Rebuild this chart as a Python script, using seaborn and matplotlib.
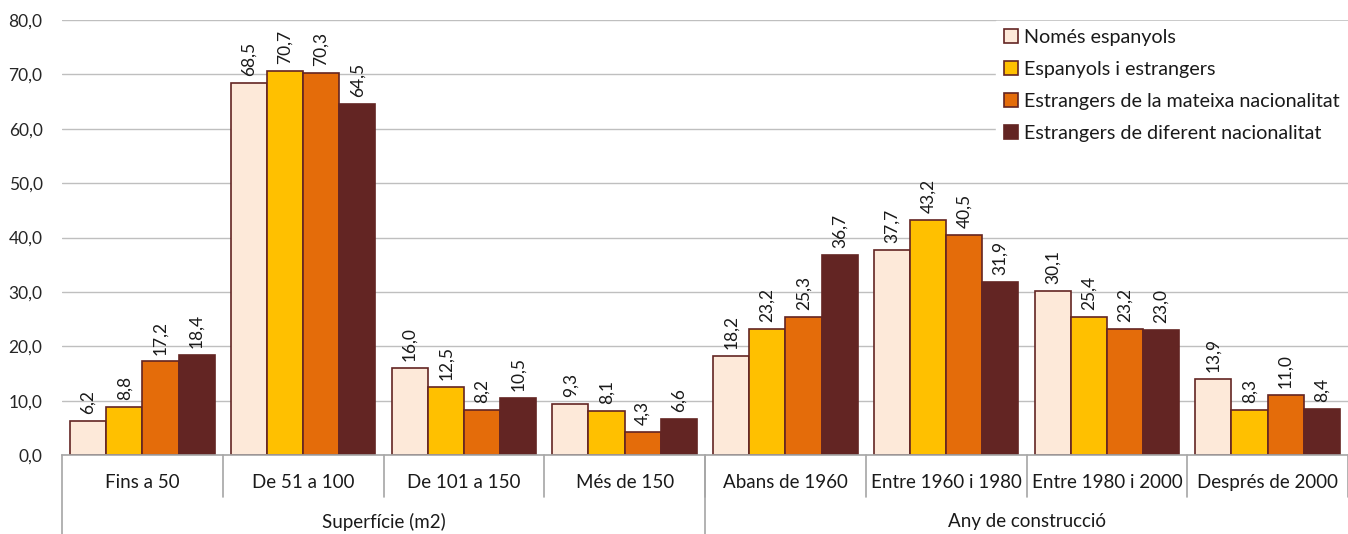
import pandas as pd
import numpy as np
from matplotlib import pyplot as plt
import seaborn as sns

# ---- data ----
categories = ["Fins a 50", "De 51 a 100", "De 101 a 150", "Més de 150",
              "Abans de 1960", "Entre 1960 i 1980", "Entre 1980 i 2000", "Després de 2000"]
groups = ["Superfície (m2)", "Any de construcció"]
group_sizes = [4, 4]
series = ["Només espanyols", "Espanyols i estrangers",
          "Estrangers de la mateixa nacionalitat", "Estrangers de diferent nacionalitat"]
nomes_espanyols = [6.2, 68.5, 16.0, 9.3, 18.2, 37.7, 30.1, 13.9]
espanyols_estrangers = [8.8, 70.7, 12.5, 8.1, 23.2, 43.2, 25.4, 8.3]
estrangers_mateixa = [17.2, 70.3, 8.2, 4.3, 25.3, 40.5, 23.2, 11.0]
estrangers_diferent = [18.4, 64.5, 10.5, 6.6, 36.7, 31.9, 23.0, 8.4]
yticks = np.arange(0, 81, 10)

colors = ["#FDE9D9", "#FFC000", "#E46C0A", "#632523"]
edge = "#632523"

rows = []
for s, vals in zip(series, [nomes_espanyols, espanyols_estrangers, estrangers_mateixa, estrangers_diferent]):
    for c, v in zip(categories, vals):
        rows.append({"cat": c, "serie": s, "val": v})
df = pd.DataFrame(rows)

sns.set_style("white")
plt.rcParams['font.family'] = ['Lato', 'DejaVu Sans']
plt.rc('text', color='#1a1a1a')

fig = plt.figure(figsize=(13.48, 5.34), dpi=100)
ax = fig.add_axes([62 / 1348, 1 - 455 / 534, 1 - 62 / 1348, 435 / 534])

sns.barplot(data=df, x="cat", y="val", hue="serie", order=categories, hue_order=series,
            palette=colors, saturation=1, edgecolor=edge, linewidth=1.2, width=0.9, gap=0, ax=ax)

ax.set_xlim(-0.5, len(categories) - 0.5)
ax.set_ylim(0, 80)
ax.set_yticks(yticks)
ax.set_yticklabels([f"{t:.1f}".replace(".", ",") for t in yticks], fontsize=12.5)
ax.tick_params(axis='y', length=0, pad=14)
ax.yaxis.grid(True, color="#BFBFBF", linewidth=1)
ax.set_axisbelow(True)
for side in ["left", "right", "top"]:
    ax.spines[side].set_visible(False)
ax.spines["bottom"].set_color("#A6A6A6")
ax.spines["bottom"].set_linewidth(1.2)
ax.set_xticks([])
ax.set_xlabel("")
ax.set_ylabel("")

# value labels
for cont in ax.containers:
    ax.bar_label(cont, labels=[f"{v:.1f}".replace(".", ",") for v in cont.datavalues],
                 rotation=90, padding=5, fontsize=12.5)

# two-level category axis
trans = ax.get_xaxis_transform()
sep_kw = dict(color="#A6A6A6", linewidth=1.2, transform=trans, clip_on=False)
for i, c in enumerate(categories):
    ax.text(i, -0.063, c, ha="center", va="center", fontsize=13.5, transform=trans)
ax.plot([-0.5, -0.5], [0, -0.19], **sep_kw)
start = -0.5
for g, n in zip(groups, group_sizes):
    for k in range(1, n + 1):
        ax.plot([start + k, start + k], [0, -0.097], **sep_kw)
    ax.text(start + n / 2, -0.154, g, ha="center", va="center", fontsize=13.5, transform=trans)
    start += n
ax.plot([3.5, 3.5], [0, -0.19], **sep_kw)

leg = ax.legend(loc="upper right", bbox_to_anchor=(1.0, 0.997), frameon=True, fancybox=False,
                framealpha=1, edgecolor="white", facecolor="white", fontsize=14.2,
                handlelength=0.7, handleheight=0.7, handletextpad=0.35,
                labelspacing=0.75, borderpad=0.4, borderaxespad=0)
for h in leg.legend_handles:
    h.set_edgecolor(edge)
    h.set_linewidth(1.2)

plt.savefig("out.png", dpi=100)
